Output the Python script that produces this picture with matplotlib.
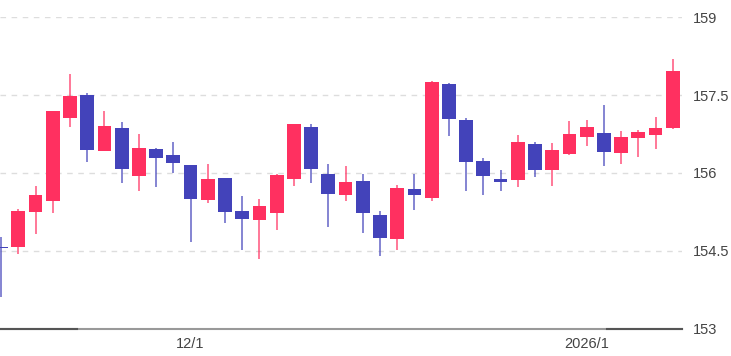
import numpy as np
import matplotlib.pyplot as plt
from matplotlib.transforms import blended_transform_factory

plt.rcParams["font.family"] = ["Liberation Sans", "DejaVu Sans"]

# OHLC (daily, 2025/11/14 .. 2026/1/8)
opens = [154.58, 154.58, 155.24, 155.46, 157.06, 157.51, 156.43, 156.87, 155.95, 156.46,
         156.35, 156.16, 155.48, 155.91, 155.26, 155.09, 155.22, 155.89, 156.89, 155.98,
         155.58, 155.85, 155.19, 154.72, 155.69, 155.52, 157.71, 157.02, 156.24, 155.89,
         155.87, 156.56, 156.05, 156.36, 156.70, 156.77, 156.38, 156.67, 156.74, 156.87]
highs = [154.77, 155.31, 155.75, 157.19, 157.91, 157.55, 157.20, 156.99, 156.75, 156.49,
         156.59, 156.16, 156.18, 155.91, 155.55, 155.50, 155.99, 156.95, 156.95, 156.17,
         156.14, 155.99, 155.26, 155.76, 155.99, 157.77, 157.73, 157.06, 156.29, 156.05,
         156.74, 156.59, 156.58, 157.01, 157.02, 157.31, 156.81, 156.82, 157.08, 158.20]
lows = [153.62, 154.43, 154.82, 155.23, 156.89, 156.22, 156.43, 155.81, 155.66, 155.73,
        156.00, 154.67, 155.43, 155.03, 154.52, 154.35, 154.91, 155.75, 155.80, 154.95,
        155.46, 154.85, 154.40, 154.52, 155.29, 155.47, 156.71, 155.66, 155.57, 155.65,
        155.73, 155.93, 155.75, 156.34, 156.52, 156.13, 156.18, 156.31, 156.47, 156.85]
closes = [154.55, 155.26, 155.57, 157.19, 157.49, 156.45, 156.91, 156.07, 156.48, 156.29,
          156.19, 155.50, 155.89, 155.24, 155.12, 155.36, 155.96, 156.94, 156.07, 155.59,
          155.83, 155.23, 154.74, 155.72, 155.58, 157.76, 157.05, 156.22, 155.95, 155.83,
          156.60, 156.05, 156.44, 156.75, 156.89, 156.41, 156.70, 156.79, 156.87, 157.96]
date_labels = {11: "12/1", 34: "2026/1"}
y_ticks = [153, 154.5, 156, 157.5, 159]

up_color = "#ff3060"
down_color = "#4343ba"

o = np.array(opens)
c = np.array(closes)
x = np.arange(len(o))
colors = [up_color if cc >= oo else down_color for oo, cc in zip(o, c)]

fig = plt.figure(figsize=(7.31, 3.56), dpi=100)
ax = fig.add_axes([0, 0.0767, 0.9326, 0.8747])

# wicks
ax.vlines(x, lows, highs, colors=colors, linewidth=1.3, alpha=0.7, zorder=2)
# bodies
bottoms = np.minimum(o, c)
heights = np.maximum(np.abs(c - o), 0.02)
ax.bar(x, heights, bottom=bottoms, width=0.8, color=colors, zorder=3)

ax.set_xlim(-0.064, 39.52)
ax.set_ylim(153, 159)

ax.set_yticks(y_ticks)
ax.set_yticklabels(["153", "154.5", "156", "157.5", "159"])
ax.yaxis.tick_right()
ax.tick_params(axis="y", length=0, pad=8, labelsize=10.5, labelcolor="#444444")
ax.set_xticks(list(date_labels.keys()))
ax.set_xticklabels(list(date_labels.values()))
ax.tick_params(axis="x", length=0, pad=6, labelsize=10.5, labelcolor="#444444")

for t in y_ticks[1:]:
    ax.axhline(t, color="#dddddd", linewidth=1, linestyle=(0, (4, 4)), zorder=1)

for s in ["top", "left", "right"]:
    ax.spines[s].set_visible(False)
ax.spines["bottom"].set_color("#999999")
ax.spines["bottom"].set_linewidth(1.5)

# darker stretches of the bottom line
tr = blended_transform_factory(ax.transAxes, ax.transAxes)
ax.plot([0, 0.113], [0, 0], color="#555555", linewidth=1.5, transform=tr, clip_on=False, zorder=5)
ax.plot([0.890, 1], [0, 0], color="#555555", linewidth=1.5, transform=tr, clip_on=False, zorder=5)

fig.savefig("out.png", dpi=100)
